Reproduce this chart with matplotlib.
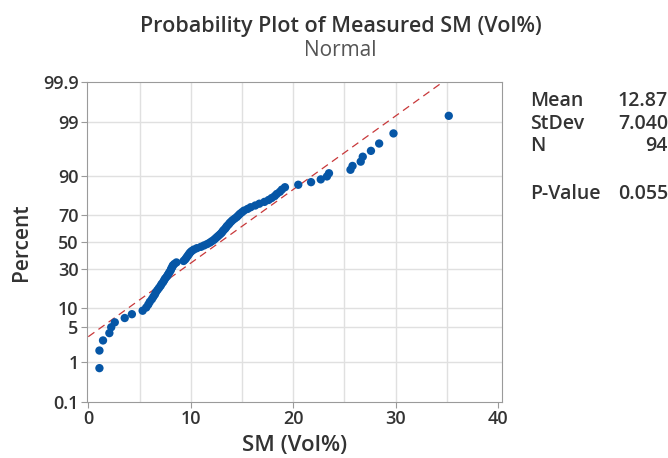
import matplotlib.pyplot as plt
import numpy as np
from statistics import NormalDist

sm = [1.08, 1.08, 1.43, 2.05, 2.23, 2.58, 3.55, 4.25, 5.3, 5.65,
      5.85, 6.0, 6.2, 6.35, 6.5, 6.6, 6.75, 6.9, 7.05, 7.15,
      7.3, 7.4, 7.5, 7.65, 7.75, 7.85, 7.95, 8.05, 8.1, 8.2,
      8.25, 8.4, 8.6, 9.3, 9.45, 9.55, 9.65, 9.75, 9.85, 9.95,
      10.1, 10.3, 10.6, 11.0, 11.3, 11.6, 11.85, 12.05, 12.25, 12.4,
      12.55, 12.7, 12.85, 13.0, 13.1, 13.2, 13.35, 13.45, 13.55, 13.7,
      13.8, 13.95, 14.1, 14.3, 14.5, 14.65, 14.8, 15.0, 15.2, 15.55,
      15.85, 16.3, 16.7, 17.2, 17.6, 17.9, 18.2, 18.4, 18.7, 18.9,
      19.2, 20.5, 21.75, 22.7, 23.3, 23.5, 25.6, 25.8, 26.6, 26.8,
      27.6, 28.4, 29.8, 35.2]
mean, stdev, n, pval = 12.87, 7.040, 94, 0.055
pct_ticks = [0.1, 1, 5, 10, 30, 50, 70, 90, 99, 99.9]
pct_labels = ["0.1", "1", "5", "10", "30", "50", "70", "90", "99", "99.9"]

nd = NormalDist()
z = lambda p: nd.inv_cdf(p / 100.0)

# median ranks (Benard) as Minitab does
ranks = np.arange(1, len(sm) + 1)
pos = [(r - 0.3) / (len(sm) + 0.4) * 100 for r in ranks]

plt.rcParams['font.family'] = ['Open Sans', 'DejaVu Sans']
dark = '#333333'

fig = plt.figure(figsize=(6.68, 4.58), dpi=100)
ax = fig.add_axes([0.130, 0.1223, 0.6215, 0.6987])

for x in range(5, 40, 5):
    ax.axvline(x, color='#e0e0e0', lw=1, zorder=0)
for p in pct_ticks[1:-1]:
    ax.axhline(z(p), color='#e0e0e0', lw=1, zorder=0)

xs = np.linspace(-1, 41, 200)
ax.plot(xs, (xs - mean) / stdev, ls=(0, (6, 4)), color='#c8383a', lw=0.9, zorder=2)
ax.scatter(sm, [z(p) for p in pos], s=36, color='#0656a6', edgecolors='none', zorder=3)

ax.set_xlim(-0.15, 40.4)
ax.set_ylim(z(0.1), z(99.9))
ax.set_xticks([0, 10, 20, 30, 40])
ax.set_yticks([z(p) for p in pct_ticks])
ax.set_yticklabels(pct_labels)
for s in ax.spines.values():
    s.set_color('#9a9a9a')
ax.tick_params(colors='#9a9a9a', labelcolor=dark, labelsize=13, length=4, width=0.8, pad=2)
for lab in ax.get_xticklabels() + ax.get_yticklabels():
    lab.set_fontweight('semibold')
ax.set_xlabel("SM (Vol%)", fontsize=16, color=dark, fontweight='semibold', labelpad=5)
ax.set_ylabel("Percent", fontsize=15, color=dark, fontweight='semibold', labelpad=8)

fig.text(0.51, 0.93, "Probability Plot of Measured SM (Vol%)", ha='center',
         fontsize=15.5, fontweight='semibold', color=dark)
fig.text(0.51, 0.877, "Normal", ha='center', fontsize=15, color='#555555')

rows = [("Mean", "%.2f" % mean, 0.779), ("StDev", "%.3f" % stdev, 0.729),
        ("N", str(n), 0.681), ("P-Value", "%.3f" % pval, 0.576)]
for lab, val, yy in rows:
    fig.text(0.793, yy, lab, ha='left', va='center', fontsize=14, fontweight='semibold', color=dark)
    fig.text(1.0, yy, val, ha='right', va='center', fontsize=14, fontweight='semibold', color=dark)

fig.savefig("out.png", dpi=100)
